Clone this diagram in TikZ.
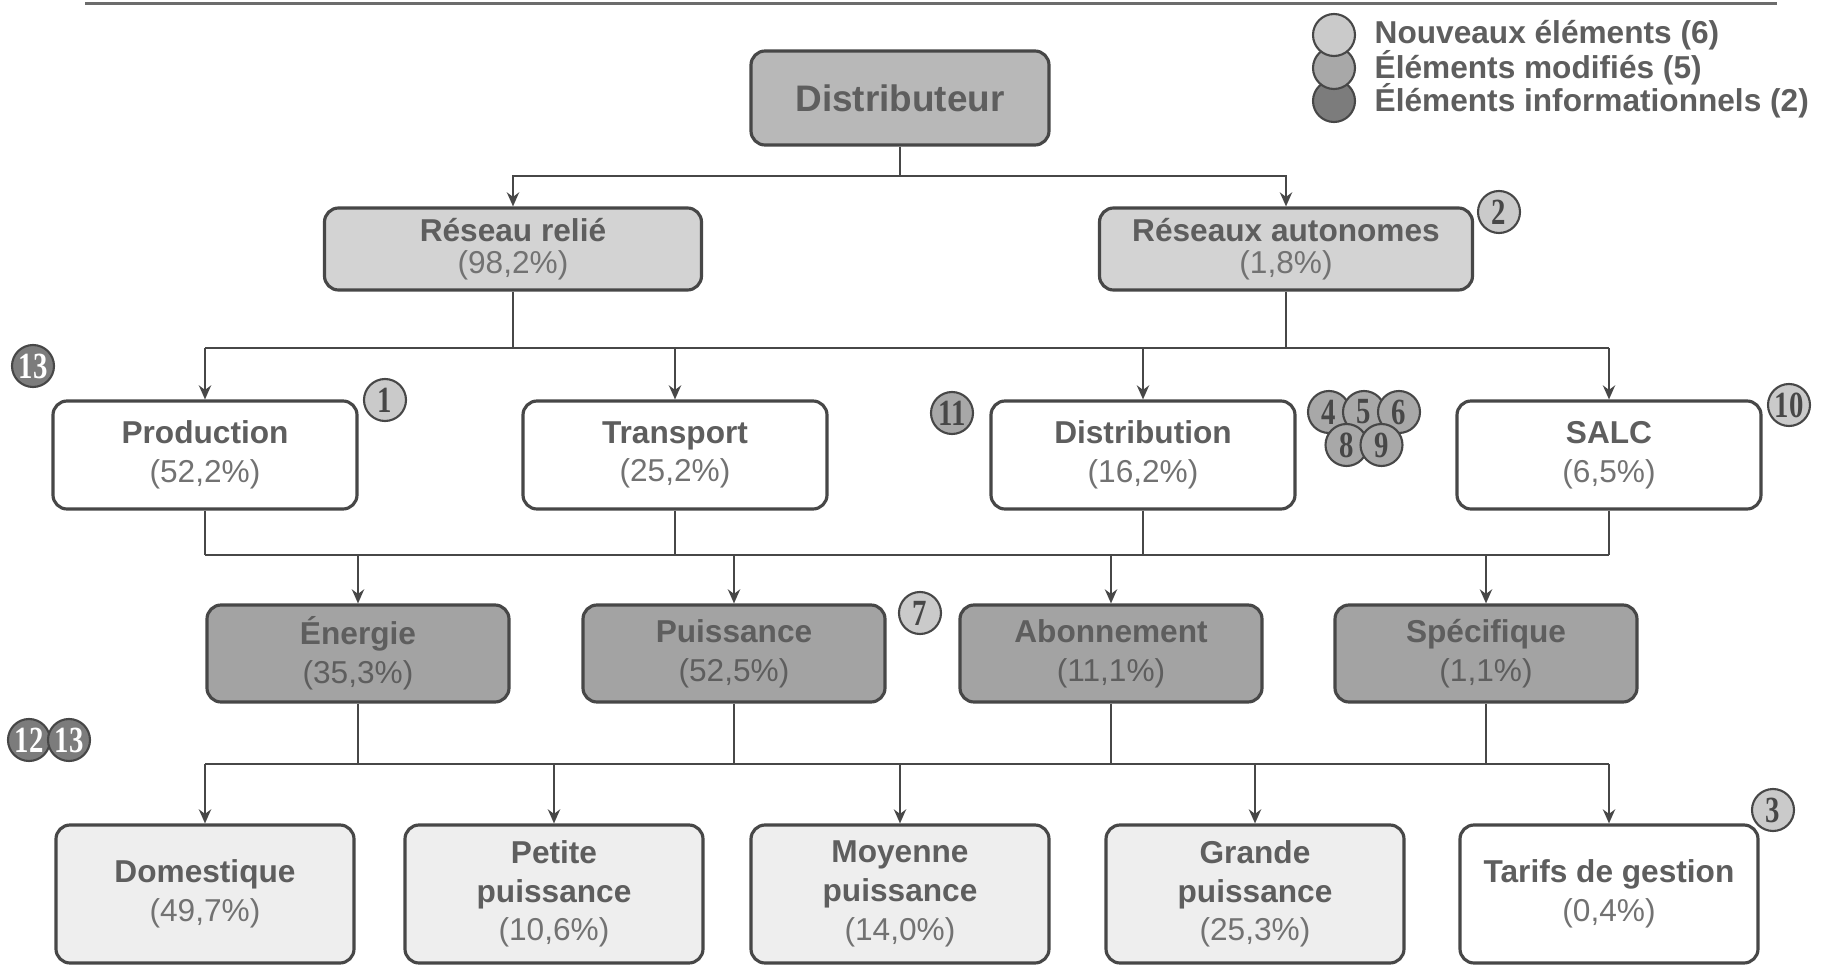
\documentclass[tikz,border=0pt]{standalone}
\usepackage{fontspec}
\setmainfont{Liberation Sans}
\newfontfamily\numfont[FakeStretch=0.78]{Liberation Serif}
\usetikzlibrary{arrows.meta}
\definecolor{rim}{HTML}{474747}
\definecolor{txt}{HTML}{5E5E5E}
\definecolor{pct}{HTML}{727272}
\definecolor{topfill}{HTML}{B8B8B8}
\definecolor{netfill}{HTML}{D3D3D3}
\definecolor{tarfill}{HTML}{A3A3A3}
\definecolor{cusfill}{HTML}{EEEEEE}
\definecolor{newcol}{HTML}{CACACA}
\definecolor{modcol}{HTML}{A8A8A8}
\definecolor{infcol}{HTML}{7C7C7C}
\begin{document}
\begin{tikzpicture}[
    box/.style={draw=rim, line width=0.9pt, rounded corners=4pt, align=center,
        text=txt, inner sep=1pt, font=\fontsize{9}{11}\selectfont},
    lvlthree/.style={box, fill=white, minimum width=3.04cm, minimum height=1.08cm},
    lvlfour/.style={box, fill=tarfill, minimum width=3.02cm, minimum height=0.97cm},
    lvlfive/.style={box, fill=cusfill, minimum width=2.98cm, minimum height=1.38cm},
    link/.style={draw=rim, line width=0.6pt},
    tip/.style={link, -{Stealth[length=4pt,width=3.5pt]}},
    badge/.style={circle, draw=rim, line width=0.6pt, minimum size=0.42cm, inner sep=0pt,
        font=\numfont\bfseries\fontsize{10.5}{10.5}\selectfont},
    newb/.style={badge, fill=newcol, text=rim},
    modb/.style={badge, fill=modcol, text=rim},
    infb/.style={badge, fill=infcol, text=white},
    legdot/.style={circle, draw=rim, line width=0.6pt, minimum size=0.42cm, inner sep=0pt},
    legtext/.style={anchor=west, text=txt, inner sep=0pt, font=\bfseries\fontsize{9}{9}\selectfont}
]
\useasboundingbox (0,0) rectangle (18.35,-9.67);
\draw[line width=1pt, rim!80] (0.85,-0.035) -- (17.77,-0.035); % top rule

% legend
\node[legdot, fill=infcol] (linfo) at (13.34,-1.01) {};
\node[legdot, fill=modcol] (lmod) at (13.34,-0.68) {};
\node[legdot, fill=newcol] (lnew) at (13.34,-0.35) {};
\node[legtext] (tnew) at (13.74,-0.35) {Nouveaux éléments (6)};
\node[legtext] (tmod) at (13.74,-0.68) {Éléments modifiés (5)};
\node[legtext] (tinfo) at (13.74,-1.01) {Éléments informationnels (2)};

% tree
\node[box, fill=topfill, minimum width=2.98cm, minimum height=0.94cm,
    font=\bfseries\fontsize{10.5}{12}\selectfont] (dist) at (9.00,-0.98) {Distributeur};
\node[box, fill=netfill, minimum width=3.77cm, minimum height=0.82cm,
    font=\fontsize{9}{9}\selectfont] (relie) at (5.13,-2.49) {\textbf{Réseau relié}\\\textcolor{pct}{(98,2\%)}};
\node[box, fill=netfill, minimum width=3.73cm, minimum height=0.82cm,
    font=\fontsize{9}{9}\selectfont] (auton) at (12.86,-2.49) {\textbf{Réseaux autonomes}\\\textcolor{pct}{(1,8\%)}};

\node[lvlthree] (prod) at (2.05,-4.55) {\textbf{Production}\\\textcolor{pct}{(52,2\%)}};
\node[lvlthree] (transp) at (6.75,-4.55) {\textbf{Transport}\\\textcolor{pct}{(25,2\%)}};
\node[lvlthree] (distrib) at (11.43,-4.55) {\textbf{Distribution}\\\textcolor{pct}{(16,2\%)}};
\node[lvlthree] (salc) at (16.09,-4.55) {\textbf{SALC}\\\textcolor{pct}{(6,5\%)}};

\node[lvlfour] (energie) at (3.58,-6.535) {\textbf{Énergie}\\(35,3\%)};
\node[lvlfour] (puiss) at (7.34,-6.535) {\textbf{Puissance}\\(52,5\%)};
\node[lvlfour] (abonn) at (11.11,-6.535) {\textbf{Abonnement}\\(11,1\%)};
\node[lvlfour] (specif) at (14.86,-6.535) {\textbf{Spécifique}\\(1,1\%)};

\node[lvlfive] (domest) at (2.05,-8.94) {\textbf{Domestique}\\\textcolor{pct}{(49,7\%)}};
\node[lvlfive] (petite) at (5.54,-8.94) {\textbf{Petite}\\\textbf{puissance}\\\textcolor{pct}{(10,6\%)}};
\node[lvlfive] (moyenne) at (9.00,-8.94) {\textbf{Moyenne}\\\textbf{puissance}\\\textcolor{pct}{(14,0\%)}};
\node[lvlfive] (grande) at (12.55,-8.94) {\textbf{Grande}\\\textbf{puissance}\\\textcolor{pct}{(25,3\%)}};
\node[lvlfive, fill=white] (gestion) at (16.09,-8.94) {\textbf{Tarifs de gestion}\\\textcolor{pct}{(0,4\%)}};

% buses
\coordinate (bus1) at (0,-1.76);
\coordinate (bus2) at (0,-3.48);
\coordinate (bus3) at (0,-5.55);
\coordinate (bus4) at (0,-7.64);

\draw[tip] (dist.south) -- (dist.south |- bus1) -| (relie.north);
\draw[tip] (dist.south |- bus1) -| (auton.north);

\draw[link] (relie.south) -- (relie.south |- bus2)
    (auton.south) -- (auton.south |- bus2)
    (prod.north |- bus2) -- (salc.north |- bus2);
\foreach \n in {prod,transp,distrib,salc}
    \draw[tip] (\n.north |- bus2) -- (\n.north);

\foreach \n in {prod,transp,distrib,salc}
    \draw[link] (\n.south) -- (\n.south |- bus3);
\draw[link] (prod.south |- bus3) -- (salc.south |- bus3);
\foreach \n in {energie,puiss,abonn,specif}
    \draw[tip] (\n.north |- bus3) -- (\n.north);

\foreach \n in {energie,puiss,abonn,specif}
    \draw[link] (\n.south) -- (\n.south |- bus4);
\draw[link] (domest.north |- bus4) -- (gestion.north |- bus4);
\foreach \n in {domest,petite,moyenne,grande,gestion}
    \draw[tip] (\n.north |- bus4) -- (\n.north);

% badges
\node[infb] (b13) at (0.33,-3.66) {13};
\node[newb] (b1) at (3.85,-4.00) {1};
\node[newb] (b2) at (14.99,-2.12) {2};
\node[modb] (b11) at (9.52,-4.13) {11};
\node[modb] (b4) at (13.29,-4.12) {4};
\node[modb] (b5) at (13.64,-4.12) {5};
\node[modb] (b6) at (13.99,-4.12) {6};
\node[modb] (b8) at (13.465,-4.45) {8};
\node[modb] (b9) at (13.815,-4.45) {9};
\node[newb] (b10) at (17.89,-4.05) {10};
\node[newb] (b7) at (9.20,-6.13) {7};
\node[infb] (b12) at (0.29,-7.40) {12};
\node[infb] (b13b) at (0.69,-7.40) {13};
\node[newb] (b3) at (17.73,-8.10) {3};
\end{tikzpicture}
\end{document}
